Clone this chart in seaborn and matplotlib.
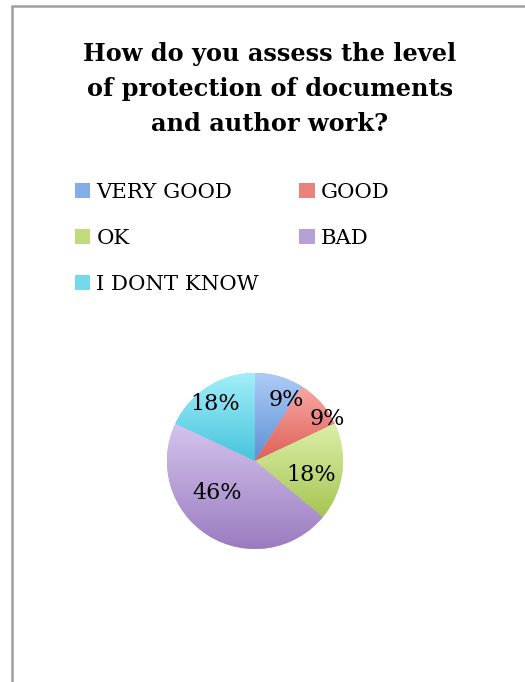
import numpy as np
import matplotlib
matplotlib.use("Agg")
import matplotlib.pyplot as plt
import seaborn as sns
from matplotlib.colors import LinearSegmentedColormap
from matplotlib.patches import Patch
from matplotlib.lines import Line2D

# Datos
categorias = ['VERY GOOD', 'GOOD', 'OK', 'BAD', 'I DONT KNOW']
porcentajes = [9, 9, 18, 46, 18]
titulo = 'How do you assess the level\nof protection of documents\nand author work?'

# Colores (claro arriba, oscuro abajo)
colores_claros = ['#aecbf7', '#f7a8a3', '#dcefa8', '#d4c4ee', '#a3eefa']
colores_oscuros = ['#5d90d4', '#df5f57', '#a6c553', '#9a7cbf', '#46c4dc']
colores_medios = ['#86aee6', '#eb837c', '#c1da7c', '#b7a0d6', '#74d9eb']

# Ajustes de etiquetas (estilo)
radio_etiqueta = [0.78, 0.95, 0.66, 0.56, 0.79]
giro_etiqueta = [-10.8, -11.1, -7.1, -17.6, 3.1]

sns.set_theme(style="white")
plt.rcParams['font.family'] = ['DejaVu Serif']
plt.rcParams['text.color'] = 'black'

W, H = 525, 682
fig = plt.figure(figsize=(W / 100, H / 100), dpi=100)

# Marco
fig.add_artist(Line2D([12 / W, 12 / W], [0, 1 - 6 / H], color='#a0a0a0', lw=1.8))
fig.add_artist(Line2D([12 / W, 1], [1 - 6 / H, 1 - 6 / H], color='#a0a0a0', lw=1.8))

# Título
fig.text(270 / W, 1 - 89 / H, titulo, ha='center', va='center', fontsize=17.3,
         fontweight='bold', linespacing=1.6, color='black')

# Pastel
cx, cy, R = 255, 461, 88
ax = fig.add_axes([(cx - R) / W, 1 - (cy + R) / H, 2 * R / W, 2 * R / H])
wedges, textos, autotextos = ax.pie(porcentajes, startangle=90, counterclock=False,
                                    colors=colores_medios, wedgeprops=dict(linewidth=0),
                                    autopct=lambda p: f'{p:.0f}%',
                                    textprops=dict(fontsize=16, color='black'))
ax.set_aspect('equal')
ax.axis('off')

grad = np.linspace(0, 1, 256).reshape(-1, 1)
for i, w in enumerate(wedges):
    ext = w.get_path().get_extents()
    cmap = LinearSegmentedColormap.from_list(f'g{i}', [colores_claros[i], colores_oscuros[i]])
    im = ax.imshow(grad, cmap=cmap, extent=[ext.x0, ext.x1, ext.y0, ext.y1],
                   origin='upper', aspect='auto', zorder=1.5)
    im.set_clip_path(w)
    ang = np.deg2rad((w.theta1 + w.theta2) / 2 + giro_etiqueta[i])
    autotextos[i].set_position((radio_etiqueta[i] * np.cos(ang), radio_etiqueta[i] * np.sin(ang)))
    autotextos[i].set_zorder(3)
    autotextos[i].set_clip_on(False)
ax.set_xlim(-1, 1)
ax.set_ylim(-1, 1)

# Leyenda
orden = [0, 2, 4, 1, 3]
handles = [Patch(facecolor=colores_medios[i], edgecolor='none') for i in orden]
etiquetas = [categorias[i] for i in orden]
leg = fig.legend(handles, etiquetas, ncol=2, loc='upper left',
                 bbox_to_anchor=(64 / W, 1 - 172 / H), frameon=False, fontsize=15.3,
                 handlelength=0.72, handleheight=0.72, handletextpad=0.3,
                 labelspacing=1.28, columnspacing=1.9, borderpad=0)
for t in leg.get_texts():
    t.set_color('black')

fig.savefig('out.png', dpi=100)
